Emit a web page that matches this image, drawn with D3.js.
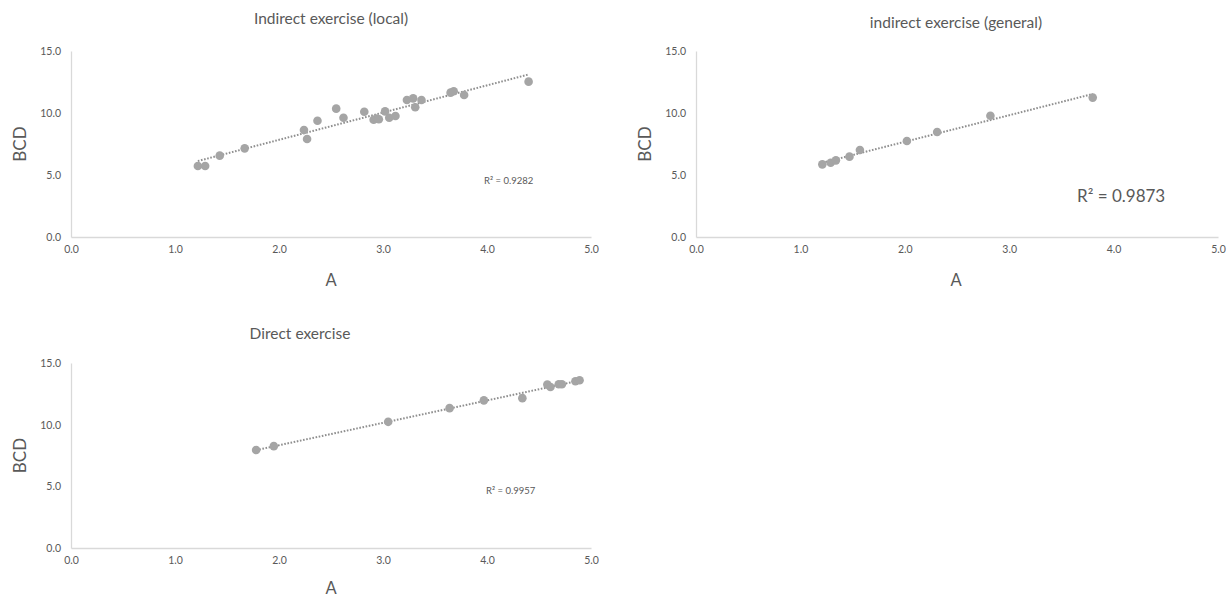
<!DOCTYPE html>
<html><head><meta charset="utf-8">
<script src="https://cdn.jsdelivr.net/npm/d3@7"></script>
<style>body{margin:0;background:#fff}svg{display:block}</style>
</head><body><svg id="c" width="1230" height="598"></svg>
<script>
// ---- data ----
const titles = ["Indirect exercise (local)", "indirect exercise (general)", "Direct exercise"];
const r2Labels = ["R² = 0.9282", "R² = 0.9873", "R² = 0.9957"];
const xTicks = [0, 1, 2, 3, 4, 5];
const yTicks = [0, 5, 10, 15];
const localA   = [1.22,1.29,1.43,1.67,2.24,2.27,2.37,2.55,2.62,2.82,2.91,2.94,2.96,3.02,3.06,3.12,3.23,3.29,3.31,3.37,3.65,3.68,3.78,4.40];
const localBCD = [5.73,5.73,6.56,7.15,8.63,7.90,9.38,10.35,9.62,10.10,9.45,9.55,9.49,10.13,9.62,9.76,11.05,11.18,10.46,11.05,11.64,11.75,11.45,12.53];
const generalA   = [1.21,1.29,1.34,1.47,1.57,2.02,2.31,2.82,3.80];
const generalBCD = [5.86,5.99,6.18,6.48,7.02,7.74,8.47,9.78,11.24];
const directA   = [1.78,1.95,3.05,3.64,3.97,4.34,4.58,4.61,4.69,4.72,4.85,4.89];
const directBCD = [7.94,8.26,10.23,11.34,11.97,12.15,13.25,13.06,13.28,13.28,13.52,13.60];

// ---- layout ----
const panels = [
  {a: localA, b: localBCD, x0: 71, x1: 591, y0: 237, y1: 51, tx: 331, ty: 24, axx: 331, axy: 286, byx: 26, r2x: 484, r2y: 184, r2size: 9.5},
  {a: generalA, b: generalBCD, x0: 696, x1: 1218, y0: 237, y1: 51, tx: 956, ty: 28, axx: 956, axy: 286, byx: 651, r2x: 1077, r2y: 202, r2size: 17},
  {a: directA, b: directBCD, x0: 71, x1: 591, y0: 548, y1: 363, tx: 300, ty: 339, axx: 331, axy: 594, byx: 26, r2x: 486, r2y: 494, r2size: 9.5}
];
const FONT = "Lato, 'Open Sans', sans-serif";
const textColor = "#595959";
const svg = d3.select("#c");

panels.forEach((p, i) => {
  const x = d3.scaleLinear().domain([0, 5]).range([p.x0, p.x1]);
  const y = d3.scaleLinear().domain([0, 15]).range([p.y0, p.y1]);
  const g = svg.append("g");

  // axes
  const xa = g.append("g").attr("transform", `translate(0,${p.y0})`)
    .call(d3.axisBottom(x).tickValues(xTicks).tickFormat(d3.format(".1f")).tickSize(0).tickPadding(9));
  const ya = g.append("g").attr("transform", `translate(${p.x0},0)`)
    .call(d3.axisLeft(y).tickValues(yTicks).tickFormat(d3.format(".1f")).tickSize(0).tickPadding(10));
  [xa, ya].forEach(ax => {
    ax.select(".domain").attr("stroke", "#d9d9d9").attr("stroke-width", 1.3);
    ax.selectAll("text").attr("fill", textColor).attr("font-family", FONT).attr("font-size", 10.5);
  });

  // trendline (least squares)
  const mx = d3.mean(p.a), my = d3.mean(p.b);
  const slope = d3.sum(p.a.map((v, k) => (v - mx) * (p.b[k] - my))) / d3.sum(p.a.map(v => (v - mx) ** 2));
  const icpt = my - slope * mx;
  const xmin = d3.min(p.a), xmax = d3.max(p.a);
  g.append("line")
    .attr("x1", x(xmin)).attr("y1", y(icpt + slope * xmin))
    .attr("x2", x(xmax)).attr("y2", y(icpt + slope * xmax))
    .attr("stroke", "#8f8f8f").attr("stroke-width", 2).attr("stroke-dasharray", "1.6,1.6");

  // points
  g.selectAll("circle").data(p.a.map((v, k) => [v, p.b[k]])).join("circle")
    .attr("cx", d => x(d[0])).attr("cy", d => y(d[1])).attr("r", 4.3).attr("fill", "#a5a5a5");

  // texts
  g.append("text").attr("x", p.tx).attr("y", p.ty).attr("text-anchor", "middle")
    .attr("font-family", FONT).attr("font-size", 15.5).attr("fill", textColor).text(titles[i]);
  g.append("text").attr("x", p.axx).attr("y", p.axy).attr("text-anchor", "middle")
    .attr("font-family", FONT).attr("font-size", 16.5).attr("fill", textColor).text("A");
  g.append("text").attr("transform", `translate(${p.byx},${(p.y0 + p.y1) / 2}) rotate(-90)`)
    .attr("text-anchor", "middle").attr("font-family", FONT).attr("font-size", 17).attr("fill", textColor).text("BCD");
  g.append("text").attr("x", p.r2x).attr("y", p.r2y)
    .attr("font-family", FONT).attr("font-size", p.r2size).attr("fill", textColor).text(r2Labels[i]);
});
</script></body></html>
